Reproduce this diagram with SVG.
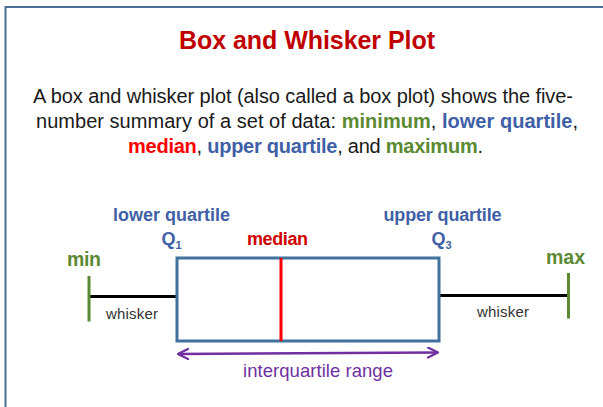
<svg xmlns="http://www.w3.org/2000/svg" width="603" height="407" viewBox="0 0 603 407">
  <defs>
    <style>
      text { font-family: "Liberation Sans", Arial, sans-serif; }
      .title { font-size: 25px; font-weight: bold; fill: #c00000; }
      .para { font-size: 20px; fill: #1a1a1a; }
      .b { font-weight: bold; }
      .grn { fill: #5b8a33; }
      .blu { fill: #3f5fa6; }
      .red { fill: #ff0000; }
      .lbl { font-size: 18px; font-weight: bold; }
      .big { font-size: 19.5px; }
      .sub { font-size: 11px; font-weight: bold; }
      .blab { fill: #3f5fa6; }
      .rlab { fill: #d00000; }
      .wh { font-size: 15px; fill: #333333; }
      .iqr { font-size: 18.5px; fill: #7030a0; }
      .tick { stroke: #5b8a33; stroke-width: 3; }
      .whisk { stroke: #000000; stroke-width: 3; }
      .box { fill: #ffffff; stroke: #41719c; stroke-width: 3; }
      .med { stroke: #ff0000; stroke-width: 3; }
      .arrow { stroke: #7030a0; stroke-width: 2.5; fill: none; }
    </style>
    <marker id="chev" viewBox="0 0 12 12" refX="11" refY="6" markerWidth="12" markerHeight="12" markerUnits="userSpaceOnUse" orient="auto-start-reverse">
      <path d="M1,1 L11,6 L1,11" fill="none" stroke="#7030a0" stroke-width="2.2" stroke-linecap="round" stroke-linejoin="round"/>
    </marker>
  </defs>

  <rect width="603" height="407" fill="#ffffff"/>
  <path d="M5.5,407 V7 H603" fill="none" stroke="#4a6f9a" stroke-width="2"/>

  <g id="title">
    <text class="title" x="307" y="49.3" text-anchor="middle" textLength="256">Box and Whisker Plot</text>
  </g>

  <g id="description">
    <text class="para" x="303" y="102.5" text-anchor="middle" textLength="540">A box and whisker plot (also called a box plot) shows the five-</text>
    <text class="para" x="307" y="127.5" text-anchor="middle" textLength="542">number summary of a set of data: <tspan class="b grn">minimum</tspan>, <tspan class="b blu">lower quartile</tspan>,</text>
    <text class="para" x="305.5" y="153" text-anchor="middle" textLength="355"><tspan class="b red">median</tspan>, <tspan class="b blu">upper quartile</tspan>, and <tspan class="b grn">maximum</tspan>.</text>
  </g>

  <g id="connectors">
    <line class="whisk" x1="89" y1="296.5" x2="177" y2="296.5"/>
    <line class="whisk" x1="439" y1="295.5" x2="568" y2="295.5"/>
    <line class="arrow" x1="178" y1="354" x2="438" y2="352.5" marker-start="url(#chev)" marker-end="url(#chev)"/>
  </g>

  <g id="box">
    <rect class="box" x="177" y="258" width="262" height="83"/>
  </g>

  <g id="median-line">
    <line class="med" x1="281" y1="258" x2="281" y2="341"/>
  </g>

  <g id="min">
    <line class="tick" x1="89" y1="276" x2="89" y2="321.5"/>
    <text class="lbl big grn" x="67" y="266" textLength="34">min</text>
  </g>

  <g id="max">
    <line class="tick" x1="568.5" y1="273" x2="568.5" y2="318.5"/>
    <text class="lbl big grn" x="546" y="264" textLength="39">max</text>
  </g>

  <g id="lower-quartile">
    <text class="lbl blab" x="113" y="220.5" textLength="117">lower quartile</text>
    <text class="lbl blab" x="161.5" y="245">Q</text>
    <text class="sub blab" x="175.5" y="248.5">1</text>
  </g>

  <g id="median-label">
    <text class="lbl rlab" x="247" y="245" textLength="61">median</text>
  </g>

  <g id="upper-quartile">
    <text class="lbl blab" x="383.5" y="221" textLength="118">upper quartile</text>
    <text class="lbl blab" x="431.5" y="245">Q</text>
    <text class="sub blab" x="445.5" y="248.5">3</text>
  </g>

  <g id="whisker-labels">
    <text class="wh" x="106" y="318.5" textLength="52">whisker</text>
    <text class="wh" x="477" y="317" textLength="52">whisker</text>
  </g>

  <g id="iqr-label">
    <text class="iqr" x="243" y="376.5" textLength="150">interquartile range</text>
  </g>
</svg>
